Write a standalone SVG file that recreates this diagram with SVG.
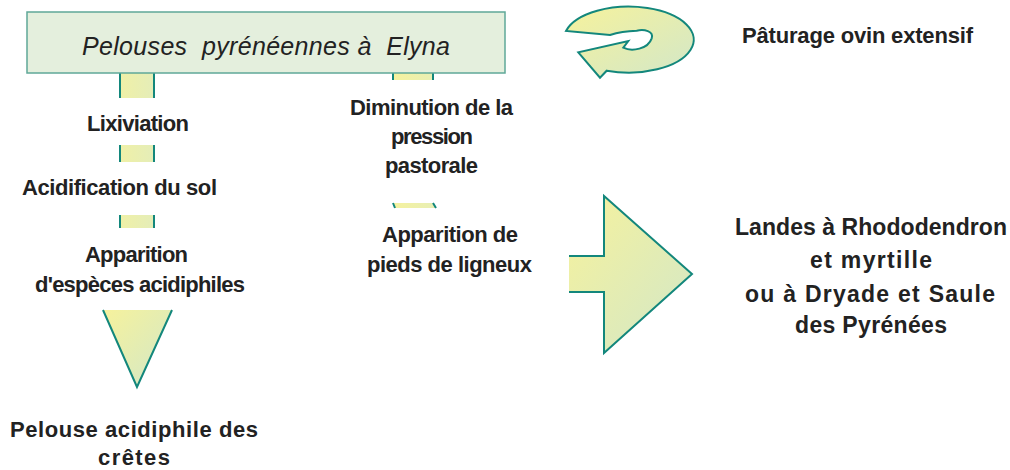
<svg xmlns="http://www.w3.org/2000/svg" width="1010" height="470" viewBox="0 0 1010 470">
<defs>
<linearGradient id="fillG" x1="0" y1="0" x2="1" y2="1">
<stop offset="0" stop-color="#f6f29c"/>
<stop offset="1" stop-color="#d2e7c9"/>
</linearGradient>
<linearGradient id="fillG2" gradientUnits="userSpaceOnUse" x1="100" y1="0" x2="180" y2="0">
<stop offset="0" stop-color="#f6f29c"/>
<stop offset="1" stop-color="#dcebc6"/>
</linearGradient>
<linearGradient id="fillG3" gradientUnits="userSpaceOnUse" x1="390" y1="0" x2="440" y2="0">
<stop offset="0" stop-color="#f6f29c"/>
<stop offset="1" stop-color="#e6eeb8"/>
</linearGradient>
</defs>
<style>
.t{font-family:"Liberation Sans",Arial,sans-serif;font-weight:bold;font-size:22px;fill:#222;text-anchor:middle}
.big{font-size:23px}
.title{font-family:"Liberation Sans",Arial,sans-serif;font-style:italic;font-size:25px;fill:#222;text-anchor:middle}
.edge{fill:none;stroke:#13877c;stroke-width:2}
.shape{stroke:none}
</style>
<rect width="1010" height="470" fill="#fff"/>

<g id="connectors">
  <rect class="shape" x="120" y="73" width="34" height="25" fill="url(#fillG2)"/>
  <path class="edge" d="M120,73V98M154,73V98"/>
  <rect class="shape" x="120" y="145" width="34" height="17" fill="url(#fillG2)"/>
  <path class="edge" d="M120,145V162M154,145V162"/>
  <rect class="shape" x="120" y="215" width="34" height="13" fill="url(#fillG2)"/>
  <path class="edge" d="M120,215V228M154,215V228"/>
  <polygon class="shape" points="103,310 172,310 137,387" fill="url(#fillG)"/>
  <path class="edge" d="M103,310L137,387L172,310"/>
  <rect class="shape" x="393" y="73" width="40" height="7" fill="url(#fillG3)"/>
  <path class="edge" d="M393,73V80M433,73V80"/>
  <polygon class="shape" points="393,203 433,203 436,208 395,208" fill="url(#fillG3)"/>
  <path class="edge" d="M393,203L395,208M433,203L436,208"/>
  <polygon class="shape" points="569,256 604,256 604,196 692,274 604,353 604,292 569,292" fill="url(#fillG)"/>
  <path class="edge" d="M569,256H604V196L692,274L604,353V292H569"/>
  <path d="M566,31 A65,33 0 1,1 606.7,70.7 L600,77.7 L578.3,52.3 L628.3,41 L623.3,47.7 C632,52 648,49 651.7,38.3 C654,31 644,29 636.7,30.7 C624,31 616,33 610,35 Z" fill="url(#fillG)" stroke="#13877c" stroke-width="2" stroke-linejoin="miter"/>
</g>

<g id="node-elyna">
  <rect x="27" y="12" width="478" height="61" fill="#e4efdd" stroke="#5fa898" stroke-width="1.5"/>
  <text class="title" x="266" y="55" textLength="368" xml:space="preserve">Pelouses  pyrénéennes à  Elyna</text>
</g>

<g id="node-lixiviation">
  <text class="t" x="138" y="131" textLength="102">Lixiviation</text>
</g>
<g id="node-acidification">
  <text class="t" x="119.5" y="195" textLength="195">Acidification du sol</text>
</g>
<g id="node-apparition-acidiphiles">
  <text class="t" x="136.5" y="262" textLength="103">Apparition</text>
  <text class="t" x="140" y="292" textLength="210">d'espèces acidiphiles</text>
</g>
<g id="node-pelouse-acidiphile">
  <text class="t" x="134" y="437" textLength="248">Pelouse acidiphile des</text>
  <text class="t" x="134" y="465" textLength="72">crêtes</text>
</g>
<g id="node-diminution">
  <text class="t" x="431.5" y="115" textLength="163">Diminution de la</text>
  <text class="t" x="432" y="144" textLength="82">pression</text>
  <text class="t" x="431.5" y="173" textLength="93">pastorale</text>
</g>
<g id="node-ligneux">
  <text class="t" x="450" y="242" textLength="136">Apparition de</text>
  <text class="t" x="449.5" y="272" textLength="165">pieds de ligneux</text>
</g>
<g id="node-paturage">
  <text class="t" x="857.5" y="43" textLength="231">Pâturage ovin extensif</text>
</g>
<g id="node-landes">
  <text class="t big" x="871" y="235" textLength="272">Landes à Rhododendron</text>
  <text class="t big" x="871" y="268" textLength="122">et myrtille</text>
  <text class="t big" x="870" y="302" textLength="250">ou à Dryade et Saule</text>
  <text class="t big" x="871" y="333" textLength="152">des Pyrénées</text>
</g>
</svg>
